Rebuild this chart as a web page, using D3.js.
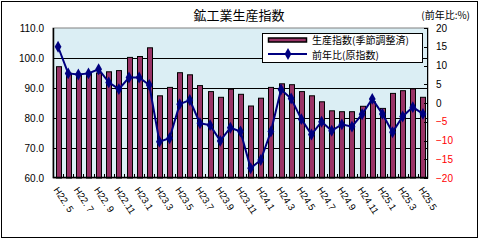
<!DOCTYPE html>
<html>
<head>
<meta charset="utf-8">
<script src="https://cdn.jsdelivr.net/npm/d3@7"></script>
<style>
  body { margin: 0; background: #fff; }
  text { font-family: "Liberation Sans", Arial, sans-serif; }
  .jp { font-family: "Noto Sans CJK JP", sans-serif; }
</style>
</head>
<body>
<div id="chart"></div>
<script>
const months = ["H22. 5","H22. 6","H22. 7","H22. 8","H22. 9","H22.10","H22.11","H22.12",
  "H23.1","H23.2","H23.3","H23.4","H23.5","H23.6","H23.7","H23.8","H23.9","H23.10","H23.11","H23.12",
  "H24.1","H24.2","H24.3","H24.4","H24.5","H24.6","H24.7","H24.8","H24.9","H24.10","H24.11","H24.12",
  "H25.1","H25.2","H25.3","H25.4","H25.5"]

const tickLabels = ["H22. 5","H22. 7","H22. 9","H22.11","H23.1","H23.3","H23.5","H23.7","H23.9","H23.11",
  "H24.1","H24.3","H24.5","H24.7","H24.9","H24.11","H25.1","H25.3","H25.5"]

// 生産指数(季節調整済)
const indexValues = [97.1, 94.9, 94.3, 94.9, 95.0, 95.4, 95.8, 100.2, 100.5, 103.4,
  87.4, 90.2, 95.1, 94.4, 90.8, 88.8, 86.9, 89.6, 87.9, 84.0,
  86.6, 90.2, 91.4, 91.1, 88.8, 87.4, 85.4, 82.4, 82.1, 82.1,
  83.9, 85.4, 83.2, 88.2, 89.1, 89.7, 86.9]

// 前年比(原指数)
const yoyValues = [15.0, 7.9, 7.6, 7.9, 9.0, 5.5, 3.7, 6.8, 6.8, 4.8,
  -10.3, -9.4, -0.3, 0.8, -5.4, -5.9, -10.1, -6.6, -7.6, -17.4,
  -15.2, -7.6, 3.6, 1.2, -4.3, -8.4, -5.0, -7.4, -5.7, -6.3,
  -3.0, 1.1, -2.9, -7.8, -3.6, -1.1, -2.9]

const leftTicks = [60, 70, 80, 90, 100, 110]
const rightTicks = [-20, -15, -10, -5, 0, 5, 10, 15, 20]

let width = 480
let height = 240
let margin = {top: 28, right: 55, bottom: 62, left: 53}

let svg = d3.select("#chart")
  .append("svg")
  .attr("width", width)
  .attr("height", height)

// outer frame
svg.append("rect")
  .attr("x", 1.5).attr("y", 1.5)
  .attr("width", 476).attr("height", 236)
  .attr("fill", "#fff")
  .attr("stroke", "#000")

let x = d3.scaleBand()
  .domain(months)
  .range([margin.left, width - margin.right + 3])

let y = d3.scaleLinear()
  .domain([60, 110])
  .range([height - margin.bottom, margin.top])

let y2 = d3.scaleLinear()
  .domain([-20, 20])
  .range([height - margin.bottom, margin.top])

let x0 = x.range()[0], x1 = x.range()[1]

// plot background
svg.append("rect")
  .attr("x", x0).attr("y", y(110))
  .attr("width", x1 - x0).attr("height", y(60) - y(110))
  .attr("fill", "#dbeef4")
  .attr("stroke", "#808080")

// gridlines
svg.append("g")
  .selectAll("line")
  .data(leftTicks.filter(d => d > 60 && d < 110))
  .enter().append("line")
    .attr("x1", x0).attr("x2", x1)
    .attr("y1", d => Math.round(y(d)) + 0.5)
    .attr("y2", d => Math.round(y(d)) + 0.5)
    .attr("stroke", "#000")

// bars
let bw = 5
svg.append("g")
  .selectAll("rect")
  .data(indexValues)
  .enter().append("rect")
    .attr("x", (d, i) => Math.round(x(months[i]) + x.bandwidth() / 2 - bw / 2) + 0.5)
    .attr("y", d => y(d))
    .attr("width", bw)
    .attr("height", d => y(60) - y(d))
    .attr("fill", "#993366")
    .attr("stroke", "#000")

// axes
svg.append("line")
  .attr("x1", x0 + 0.5).attr("x2", x0 + 0.5)
  .attr("y1", y(110)).attr("y2", y(60))
  .attr("stroke", "#000").attr("stroke-width", 1.5)
svg.append("line")
  .attr("x1", x1 - 0.5).attr("x2", x1 - 0.5)
  .attr("y1", y(110)).attr("y2", y(60))
  .attr("stroke", "#000")
svg.append("line")
  .attr("x1", x0).attr("x2", x1)
  .attr("y1", y(60) - 0.5).attr("y2", y(60) - 0.5)
  .attr("stroke", "#000").attr("stroke-width", 1.5)

// x ticks (inside)
svg.append("g")
  .selectAll("line")
  .data(months)
  .enter().append("line")
    .attr("x1", d => Math.round(x(d)) + 0.5)
    .attr("x2", d => Math.round(x(d)) + 0.5)
    .attr("y1", y(60)).attr("y2", y(60) - 4)
    .attr("stroke", "#000")

// right ticks (inside)
svg.append("g")
  .selectAll("line")
  .data(rightTicks)
  .enter().append("line")
    .attr("x1", x1).attr("x2", x1 - 4)
    .attr("y1", d => Math.round(y2(d)) + 0.5)
    .attr("y2", d => Math.round(y2(d)) + 0.5)
    .attr("stroke", "#000")

// left labels
svg.append("g")
  .selectAll("text")
  .data(leftTicks)
  .enter().append("text")
    .attr("x", 44)
    .attr("y", d => y(d))
    .attr("dy", "0.35em")
    .attr("text-anchor", "end")
    .style("font-size", "10px")
    .text(d => d.toFixed(1))

// right labels
svg.append("g")
  .selectAll("text")
  .data(rightTicks)
  .enter().append("text")
    .attr("x", 436)
    .attr("y", d => y2(d))
    .attr("dy", "0.35em")
    .attr("fill", d => d < 0 ? "#ff0000" : "#000")
    .style("font-size", "10px")
    .text(d => d < 0 ? "\u2212" + Math.abs(d) : d)

// x labels
svg.append("g")
  .selectAll("text")
  .data(tickLabels)
  .enter().append("text")
    .attr("transform", d => `translate(${x(d) + x.bandwidth() / 2 - 2},${y(60) + 10}) rotate(57)`)
    .attr("dy", "0.35em")
    .style("font-size", "9.5px")
    .text(d => d)

// line
let line = d3.line()
  .x((d, i) => x(months[i]) + x.bandwidth() / 2)
  .y(d => y2(d))

svg.append("path")
  .datum(yoyValues)
  .attr("d", line)
  .attr("fill", "none")
  .attr("stroke", "#000080")
  .attr("stroke-width", 2)

let diamond = d3.symbol().type(d3.symbolDiamond).size(40)
svg.append("g")
  .selectAll("path")
  .data(yoyValues)
  .enter().append("path")
    .attr("transform", (d, i) => `translate(${x(months[i]) + x.bandwidth() / 2},${y2(d)})`)
    .attr("d", diamond)
    .attr("fill", "#000080")

// title
svg.append("text")
  .attr("class", "jp")
  .attr("x", 239).attr("y", 20)
  .attr("text-anchor", "middle")
  .style("font-size", "13px")
  .text("鉱工業生産指数")

svg.append("text")
  .attr("class", "jp")
  .attr("x", 470).attr("y", 19)
  .attr("text-anchor", "end")
  .style("font-size", "10px")
  .text("(前年比:%)")

// legend
let lg = svg.append("g")
lg.append("rect")
  .attr("x", 262.5).attr("y", 33.5)
  .attr("width", 160).attr("height", 29)
  .attr("fill", "#fff")
  .attr("stroke", "#000")
lg.append("rect")
  .attr("x", 268.5).attr("y", 38)
  .attr("width", 38).attr("height", 4)
  .attr("fill", "#993366")
  .attr("stroke", "#000")
  .attr("stroke-width", 1.5)
lg.append("text")
  .attr("class", "jp")
  .attr("x", 312).attr("y", 40.5)
  .attr("dy", "0.35em")
  .style("font-size", "10px")
  .text("生産指数(季節調整済)")
lg.append("line")
  .attr("x1", 268).attr("x2", 307)
  .attr("y1", 54).attr("y2", 54)
  .attr("stroke", "#000080").attr("stroke-width", 2)
lg.append("path")
  .attr("transform", "translate(288,54)")
  .attr("d", diamond)
  .attr("fill", "#000080")
lg.append("text")
  .attr("class", "jp")
  .attr("x", 312).attr("y", 55)
  .attr("dy", "0.35em")
  .style("font-size", "10px")
  .text("前年比(原指数)")
</script>
</body>
</html>
